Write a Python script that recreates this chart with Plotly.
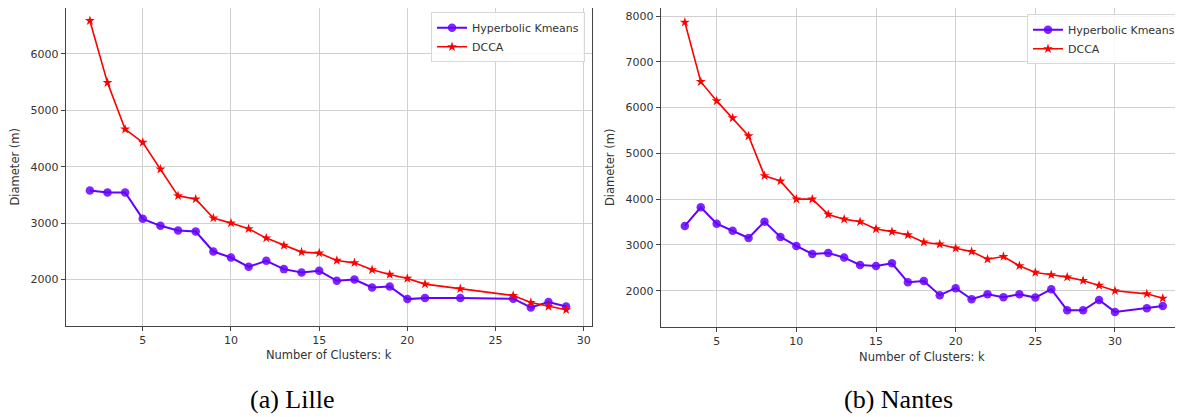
import plotly.graph_objects as go

# ---- Data: Lille ----
lille_k_hyp = [2, 3, 4, 5, 6, 7, 8, 9, 10, 11, 12, 13, 14, 15, 16, 17, 18, 19, 20, 21, 23, 26, 27, 28, 29]
lille_hyp = [3578, 3543, 3543, 3076, 2952, 2869, 2851, 2496, 2390, 2225, 2332, 2184, 2124, 2154,
             1977, 2000, 1858, 1876, 1652, 1670, 1670, 1660, 1505, 1600, 1521]
lille_k_dcca = [2, 3, 4, 5, 6, 7, 8, 9, 10, 11, 12, 13, 14, 15, 16, 17, 18, 19, 20, 21, 23, 26, 27, 28, 29]
lille_dcca = [6590, 5491, 4665, 4430, 3956, 3484, 3426, 3089, 3000, 2899, 2734, 2603, 2486, 2468,
              2337, 2295, 2172, 2090, 2018, 1918, 1835, 1716, 1592, 1521, 1462]

# ---- Data: Nantes ----
nantes_k = [3, 4, 5, 6, 7, 8, 9, 10, 11, 12, 13, 14, 15, 16, 17, 18, 19, 20, 21, 22, 23, 24, 25,
            26, 27, 28, 29, 30, 32, 33]
nantes_hyp = [3415, 3823, 3465, 3312, 3153, 3509, 3175, 2978, 2803, 2825, 2723, 2563, 2541, 2600,
              2186, 2214, 1902, 2055, 1814, 1924, 1858, 1924, 1850, 2033, 1574, 1574, 1799, 1537,
              1618, 1668]
nantes_dcca = [7862, 6566, 6146, 5773, 5380, 4511, 4395, 4000, 4000, 3666, 3563, 3505, 3349, 3290,
               3218, 3059, 3015, 2928, 2854, 2688, 2747, 2544, 2398, 2347, 2297, 2223, 2114, 1998,
               1932, 1834]

series_names = ["Hyperbolic Kmeans", "DCCA"]
captions = ["(a) Lille", "(b) Nantes"]
x_title = "Number of Clusters: k"
y_title = "Diameter (m)"

# the page body has an 8px margin; the figure is placed at (8, 8)
OFF = 8
W, H = 1183 - OFF, 417 - OFF
BLUE = "#6600ff"
RED = "#ff0000"
GRID = "#d0d0d0"
SPINE = "#444444"
TXT = "#333333"
FONT = "DejaVu Sans"

def px(x):
    return (x - OFF) / W

def py(y):
    return min(1.0, 1 - (y - OFF) / H)

fig = go.Figure()

def add_pair(kh, vh, kd, vd, xa, ya, legend):
    fig.add_trace(go.Scatter(
        x=kh, y=vh, mode="lines+markers", name=series_names[0],
        line=dict(color=BLUE, width=2),
        marker=dict(symbol="circle", size=8.5, color=BLUE, opacity=0.85),
        xaxis=xa, yaxis=ya, legend=legend))
    fig.add_trace(go.Scatter(
        x=kd, y=vd, mode="lines+markers", name=series_names[1],
        line=dict(color=RED, width=1.6),
        marker=dict(symbol="star", size=7.5, color=RED),
        xaxis=xa, yaxis=ya, legend=legend))

add_pair(lille_k_hyp, lille_hyp, lille_k_dcca, lille_dcca, "x", "y", "legend")
add_pair(nantes_k, nantes_hyp, nantes_k, nantes_dcca, "x2", "y2", "legend2")

tickfont = dict(family=FONT, size=11, color=TXT)
titlefont = dict(family=FONT, size=11.5, color=TXT)

common_x = dict(
    dtick=5, tick0=0, showgrid=True, gridcolor=GRID, gridwidth=1, zeroline=False,
    ticks="outside", ticklen=4, tickcolor=SPINE, tickfont=tickfont,
    showline=True, linecolor=SPINE, linewidth=1.2, mirror=True, automargin=False,
    title=dict(text=x_title, font=titlefont, standoff=5),
)
common_y = dict(
    dtick=1000, tick0=0, showgrid=True, gridcolor=GRID, gridwidth=1, zeroline=False,
    ticks="outside", ticklen=4, tickcolor=SPINE, tickfont=tickfont,
    showline=True, linecolor=SPINE, linewidth=1.2, automargin=False,
    title=dict(text=y_title, font=titlefont, standoff=8),
)

legend_common = dict(
    xanchor="right", yanchor="top",
    bgcolor="rgba(255,255,255,0.85)", bordercolor="#d8d8d8", borderwidth=1,
    font=dict(family=FONT, size=11, color=TXT), tracegroupgap=0, itemwidth=30,
)

fig.update_layout(
    width=W, height=H,
    margin=dict(l=0, r=0, t=0, b=0, autoexpand=False),
    paper_bgcolor="white", plot_bgcolor="white",
    showlegend=True,
    xaxis=dict(common_x, domain=[px(65.7), px(591.7)], range=[0.63, 30.45], anchor="y"),
    yaxis=dict(common_y, domain=[py(325.5), py(8)], range=[1184, 6815], anchor="x", mirror=True),
    xaxis2=dict(common_x, domain=[px(660.7), 1.0], range=[1.485, 34.27], anchor="y2"),
    yaxis2=dict(common_y, domain=[py(326.7), py(8)], range=[1214, 8175], anchor="x2", mirror=False),
    legend=dict(legend_common, x=px(585), y=py(12.3)),
    legend2=dict(legend_common, x=px(1181), y=py(14.3)),
)

fig.add_annotation(text=captions[0], x=px(292), y=py(399), xref="paper", yref="paper",
                   showarrow=False, xanchor="center", yanchor="middle",
                   font=dict(family="Liberation Serif", size=26, color="black"))
fig.add_annotation(text=captions[1], x=px(898), y=py(399), xref="paper", yref="paper",
                   showarrow=False, xanchor="center", yanchor="middle",
                   font=dict(family="Liberation Serif", size=26, color="black"))

fig.write_html("out.html")
